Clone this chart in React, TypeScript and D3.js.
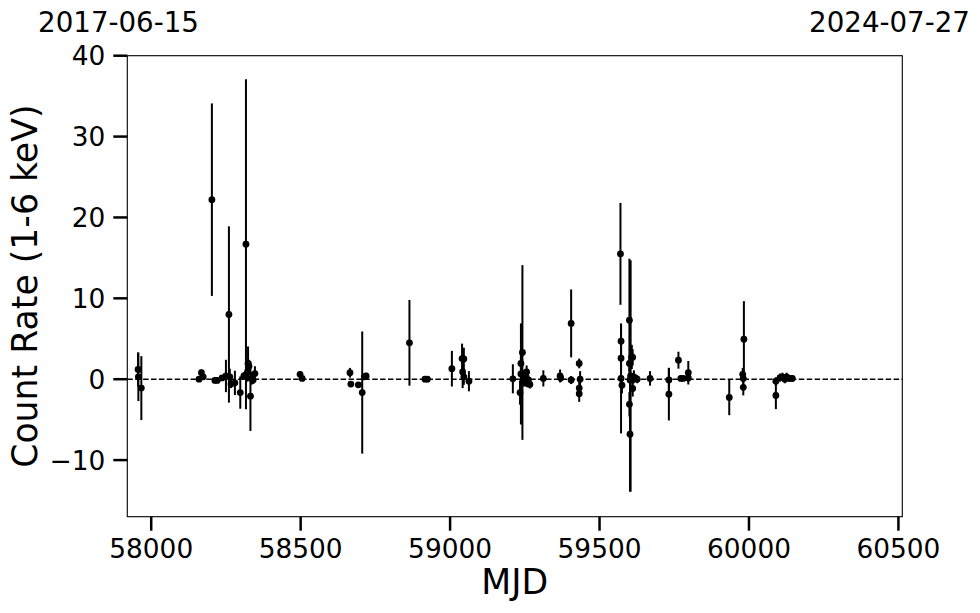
import React from 'react';
import * as d3 from 'd3';

const mjd = [
  57956, 57957, 57967, 58160, 58168, 58174, 58203, 58213, 58221, 58237,
  58250, 58260, 58263, 58267, 58280, 58298, 58310, 58317, 58322, 58324,
  58327, 58332, 58335, 58341, 58347, 58498, 58505, 58665, 58668, 58693,
  58706, 58713, 58719, 58864, 58916, 58924, 59006, 59040, 59042, 59046,
  59046, 59063, 59210, 59234, 59237, 59237, 59242, 59245, 59250, 59252,
  59256, 59258, 59262, 59267, 59312, 59368, 59370, 59405, 59405, 59432,
  59432, 59432, 59435, 59570, 59572, 59572, 59572, 59575, 59600, 59600,
  59600, 59602, 59602, 59604, 59608, 59611, 59611, 59615, 59626, 59669,
  59732, 59732, 59764, 59772, 59780, 59797, 59797, 59934, 59979, 59981,
  59981, 59983, 60090, 60090, 60104, 60112, 60120, 60126, 60135, 60145,
];
const rate = [
  1.2, 0.3, -1.1, 0.0, 0.8, 0.3, 22.2, -0.15, -0.15, 0.16,
  0.4, 8.0, 0.3, -0.6, -0.45, -1.65, 0.4, 16.7, 0.9, 1.95,
  1.6, -2.1, 0.1, -0.1, 0.7, 0.6, 0.1, 0.8, -0.6, -0.7,
  -1.65, 0.3, 0.4, 4.5, 0.0, 0.0, 1.3, 2.55, 0.9, 2.5,
  0.3, -0.25, 0.05, -1.65, 0.65, 1.95, 3.3, 0.1, -0.3, 0.4,
  0.9, -0.5, -0.1, -0.65, 0.1, 0.4, 0.15, 6.9, -0.1, 1.95,
  -1.1, -1.8, 0.0, 15.5, 4.7, 2.6, 0.1, -0.75, 7.3, 1.95,
  -3.1, -6.8, -0.1, 0.4, 2.75, 2.7, -1.15, 0.3, 0.0, 0.1,
  -0.1, -1.85, 2.35, 0.1, 0.1, 0.8, 0.15, -2.25, 0.6, 0.1,
  -1.0, 4.95, -0.25, -2.0, 0.2, 0.3, 0.0, 0.3, 0.1, 0.1,
];
const rateErr = [
  2.1, 3.0, 3.95, 0.3, 0.4, 0.3, 11.9, 0.2, 0.2, 0.3,
  2.0, 10.9, 1.0, 0.5, 1.5, 2.0, 0.5, 20.4, 1.2, 2.1,
  0.8, 4.3, 0.8, 0.5, 0.9, 0.4, 0.3, 0.6, 0.3, 0.3,
  7.55, 0.4, 0.4, 5.3, 0.3, 0.3, 2.2, 1.85, 2.0, 1.4,
  1.0, 1.25, 1.8, 1.5, 6.25, 1.5, 10.8, 1.0, 0.6, 0.6,
  0.8, 0.5, 0.6, 0.5, 1.0, 0.8, 0.5, 4.2, 0.5, 0.6,
  0.8, 1.0, 1.0, 6.3, 2.0, 2.0, 6.8, 1.0, 7.6, 1.0,
  1.5, 7.1, 1.0, 14.3, 1.5, 1.0, 1.0, 0.8, 0.5, 0.9,
  1.5, 3.25, 1.05, 0.3, 0.3, 1.45, 0.5, 2.2, 0.8, 0.8,
  1.0, 4.7, 0.5, 1.7, 0.5, 0.5, 0.5, 0.5, 0.4, 0.4,
];

const xTicks = [58000, 58500, 59000, 59500, 60000, 60500];
const yTicks = [-10, 0, 10, 20, 30, 40];
const startDate = '2017-06-15';
const endDate = '2024-07-27';

const W = 980;
const H = 613;
const margin = { top: 55.7, right: 77.7, bottom: 96.3, left: 127.3 };
const font = '"DejaVu Sans", sans-serif';

export default function App() {
  const x = d3.scaleLinear().domain([57920, 60513]).range([margin.left, W - margin.right]);
  const y = d3.scaleLinear().domain([-17, 40]).range([H - margin.bottom, margin.top]);
  const [x0, x1] = x.range();
  const [y0, y1] = y.range();

  const points = mjd.map((m, i) => ({ m, r: rate[i], e: rateErr[i] }));

  return (
    <svg width={W} height={H} style={{ position: 'absolute', left: 0, top: 0 }} fontFamily={font}>
      <rect width={W} height={H} fill="#fff" />

      {/* zero level */}
      <line x1={x0} x2={x1} y1={y(0)} y2={y(0)} stroke="#000" strokeWidth={1.6} strokeDasharray="5.5,2.4" />

      {/* error bars */}
      <g stroke="#000" strokeWidth={2}>
        {points.map((p, i) => (
          <line key={i} x1={x(p.m)} x2={x(p.m)} y1={y(p.r + p.e)} y2={y(p.r - p.e)} />
        ))}
      </g>
      <g fill="#000">
        {points.map((p, i) => (
          <circle key={i} cx={x(p.m)} cy={y(p.r)} r={3.4} />
        ))}
      </g>

      {/* frame */}
      <rect x={x0} y={y1} width={x1 - x0} height={y0 - y1} fill="none" stroke="#000" strokeWidth={1.1} />

      {/* x axis */}
      <g>
        {xTicks.map(t => (
          <g key={t} transform={`translate(${x(t)},${y0})`}>
            <line y2={14} stroke="#000" strokeWidth={2.5} />
            <text y={41} textAnchor="middle" fontSize={26.4} fill="#000">{t}</text>
          </g>
        ))}
        <text x={(x0 + x1) / 2} y={594} textAnchor="middle" fontSize={34.7} fill="#000">MJD</text>
      </g>

      {/* y axis */}
      <g>
        {yTicks.map(t => (
          <g key={t} transform={`translate(${x0},${y(t)})`}>
            <line x2={-14} stroke="#000" strokeWidth={2.5} />
            <text x={-22} dy="0.36em" textAnchor="end" fontSize={26.4} fill="#000">
              {t < 0 ? `\u2212${Math.abs(t)}` : t}
            </text>
          </g>
        ))}
        <text transform={`translate(37,${(y0 + y1) / 2}) rotate(-90)`} textAnchor="middle" fontSize={34.7} fill="#000">
          Count Rate (1-6 keV)
        </text>
      </g>

      {/* calendar dates of the window edges */}
      <text x={118.5} y={32} textAnchor="middle" fontSize={27.7} fill="#000">{startDate}</text>
      <text x={889.5} y={32} textAnchor="middle" fontSize={27.7} fill="#000">{endDate}</text>
    </svg>
  );
}
